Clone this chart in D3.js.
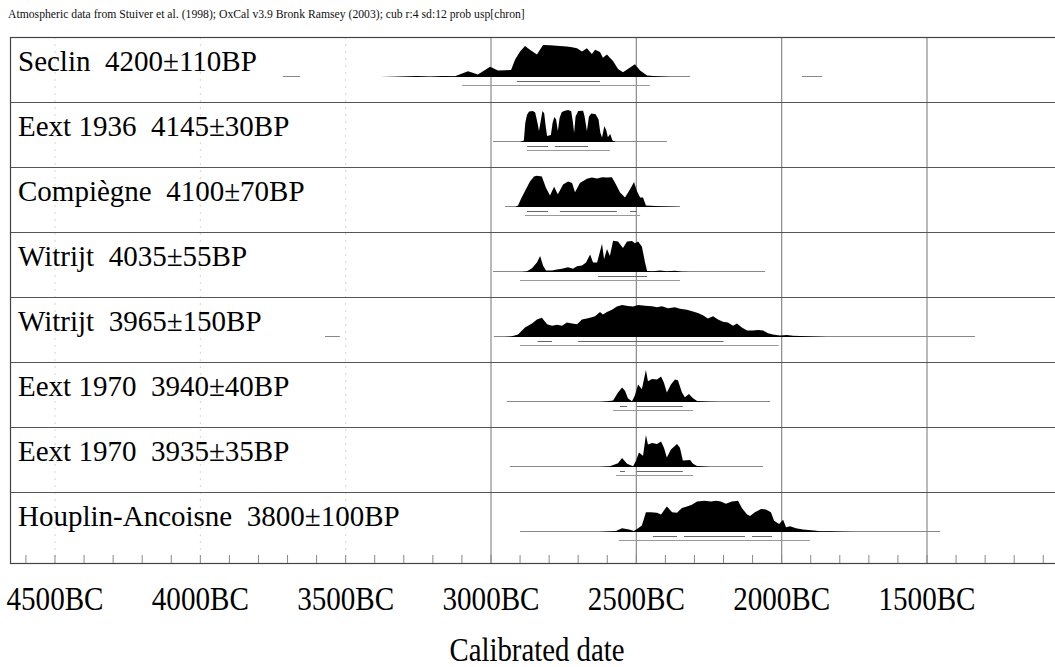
<!DOCTYPE html>
<html><head><meta charset="utf-8">
<script src="https://cdn.jsdelivr.net/npm/d3@7"></script>
<style>
html,body{margin:0;padding:0;background:#fff;}
svg{display:block;font-family:"Liberation Serif","Times New Roman",serif;}
</style></head>
<body>
<svg id="chart" width="1055" height="667"></svg>
<script>
// ---------- data (years BC, relative probability) ----------
const header = "Atmospheric data from Stuiver et al. (1998); OxCal v3.9 Bronk Ramsey (2003); cub r:4 sd:12 prob usp[chron]";
const labels = [
  "Seclin  4200±110BP",
  "Eext 1936  4145±30BP",
  "Compiègne  4100±70BP",
  "Witrijt  4035±55BP",
  "Witrijt  3965±150BP",
  "Eext 1970  3940±40BP",
  "Eext 1970  3935±35BP",
  "Houplin-Ancoisne  3800±100BP"
];
const tickYearsBC = [4500, 4000, 3500, 3000, 2500, 2000, 1500];
const axisTitle = "Calibrated date";

const seclin = [[3382,0],[3255,0.03],[3210,0.01],[3169,0.03],[3124,0.02],[3079,0.18],[3045,0.08],[3003,0.32],[2976,0.2],[2952,0.21],[2931,0.22],[2917,0.55],[2900,0.8],[2883,0.97],[2866,0.85],[2842,0.7],[2821,1.0],[2797,0.99],[2763,0.97],[2739,0.95],[2721,0.93],[2704,0.9],[2687,0.8],[2670,0.9],[2653,0.72],[2642,0.85],[2625,0.78],[2615,0.6],[2601,0.7],[2591,0.6],[2580,0.5],[2563,0.25],[2546,0.15],[2529,0.25],[2505,0.4],[2487,0.2],[2463,0.05],[2429,0.02],[2384,0]];
const eext1936 = [[2900,0],[2887,0.05],[2882,0.6],[2876,0.85],[2869,0.95],[2856,0.97],[2848,0.92],[2840,0.6],[2835,0.34],[2828,0.7],[2823,0.97],[2817,0.9],[2812,0.5],[2807,0.19],[2794,0.22],[2788,0.6],[2782,0.78],[2776,0.7],[2770,0.34],[2764,0.75],[2757,0.93],[2749,0.97],[2735,1.0],[2724,0.96],[2718,0.6],[2714,0.29],[2709,0.8],[2700,0.97],[2683,0.98],[2678,0.8],[2670,0.34],[2663,0.8],[2655,0.89],[2640,0.87],[2630,0.7],[2624,0.3],[2618,0.14],[2610,0.5],[2603,0.35],[2598,0.15],[2590,0.25],[2582,0.05],[2570,0]];
const compiegne = [[2917,0],[2907,0.05],[2897,0.25],[2883,0.5],[2866,0.8],[2852,0.95],[2842,0.98],[2825,0.95],[2811,0.6],[2797,0.36],[2783,0.63],[2770,0.4],[2752,0.7],[2735,0.8],[2721,0.75],[2711,0.46],[2694,0.75],[2670,0.88],[2653,0.92],[2635,0.89],[2618,0.93],[2601,0.92],[2584,0.93],[2570,0.7],[2556,0.45],[2539,0.3],[2522,0.55],[2508,0.78],[2498,0.5],[2487,0.3],[2477,0.3],[2467,0.05],[2419,0.02],[2350,0]];
const witrijt1 = [[2893,0],[2876,0.02],[2859,0.12],[2842,0.3],[2831,0.5],[2821,0.2],[2811,0.05],[2790,0.05],[2773,0.08],[2756,0.1],[2735,0.15],[2718,0.1],[2704,0.18],[2687,0.2],[2673,0.3],[2659,0.55],[2649,0.3],[2635,0.3],[2618,0.88],[2611,0.4],[2601,0.72],[2591,0.5],[2580,0.98],[2563,0.95],[2546,0.75],[2532,0.95],[2515,0.97],[2505,0.9],[2494,0.95],[2481,0.8],[2470,0.3],[2463,0.03],[2443,0.02],[2419,0.05],[2395,0.02],[2367,0.04],[2343,0.01],[2315,0]];
const witrijt2 = [[2952,0],[2928,0.02],[2907,0.08],[2883,0.3],[2859,0.42],[2842,0.55],[2825,0.6],[2807,0.4],[2790,0.35],[2773,0.38],[2756,0.35],[2739,0.45],[2721,0.42],[2704,0.4],[2687,0.55],[2670,0.58],[2653,0.62],[2642,0.65],[2625,0.78],[2615,0.7],[2601,0.78],[2584,0.85],[2567,0.95],[2549,1.0],[2529,0.97],[2511,0.95],[2494,1.0],[2470,0.98],[2446,0.96],[2429,0.93],[2412,0.96],[2391,0.9],[2367,0.93],[2350,0.88],[2326,0.85],[2305,0.8],[2288,0.75],[2271,0.68],[2254,0.58],[2236,0.65],[2219,0.55],[2202,0.48],[2185,0.45],[2167,0.35],[2154,0.42],[2137,0.3],[2119,0.2],[2099,0.2],[2081,0.22],[2064,0.2],[2047,0.12],[2030,0.08],[2006,0.05],[1982,0.06],[1961,0.04],[1913,0.02],[1844,0]];
const eext1970a = [[2625,0],[2601,0.02],[2580,0.05],[2563,0.3],[2549,0.45],[2539,0.35],[2529,0.12],[2515,0.02],[2505,0.2],[2494,0.55],[2481,0.4],[2467,1.0],[2460,0.65],[2446,0.72],[2429,0.7],[2415,0.8],[2405,0.6],[2395,0.3],[2381,0.55],[2367,0.7],[2357,0.68],[2343,0.3],[2333,0.15],[2319,0.25],[2305,0.12],[2291,0.03],[2247,0.01],[2212,0]];
const eext1970b = [[2625,0],[2591,0.02],[2563,0.12],[2549,0.28],[2532,0.1],[2511,0.02],[2501,0.2],[2491,0.45],[2477,0.35],[2467,1.0],[2460,0.7],[2446,0.75],[2429,0.72],[2415,0.8],[2405,0.6],[2395,0.3],[2381,0.55],[2360,0.72],[2350,0.6],[2340,0.2],[2315,0.22],[2305,0.1],[2291,0.03],[2247,0]];
const houplin = [[2625,0],[2570,0.03],[2549,0.12],[2525,0.08],[2508,0.03],[2494,0.12],[2481,0.2],[2467,0.62],[2450,0.62],[2429,0.6],[2415,0.55],[2395,0.8],[2377,0.62],[2360,0.6],[2343,0.75],[2326,0.8],[2309,0.85],[2291,0.95],[2267,0.98],[2243,0.95],[2226,0.98],[2209,0.95],[2192,0.88],[2171,0.95],[2150,0.98],[2137,0.75],[2119,0.55],[2109,0.5],[2092,0.62],[2071,0.72],[2054,0.7],[2037,0.62],[2026,0.35],[2009,0.25],[1995,0.38],[1985,0.15],[1971,0.18],[1951,0.12],[1927,0.08],[1889,0.05],[1868,0.02],[1830,0.02],[1786,0.01],[1748,0]];

// 68.2% ranges (years BC) per sample
const range68 = [
  [[2911,2625]],
  [[2876,2804],[2780,2666]],
  [[2876,2804],[2763,2567],[2522,2498]],
  [[2632,2463]],
  [[2840,2790],[2700,2200]],
  [[2556,2532],[2498,2340]],
  [[2556,2539],[2498,2340]],
  [[2443,2360],[2336,2126],[2102,2033]]
];
// 95.4% ranges
const range95 = [
  [[3100,2453]],
  [[2876,2591]],
  [[2883,2487]],
  [[2900,2350]],
  [[2900,2010]],
  [[2580,2305]],
  [[2570,2305]],
  [[2560,1903]]
];
// thin tails of the distributions (years BC)
const tails = [
  [[3716,3657],[3255,2315],[1930,1861]],
  [[2993,2395]],
  [[2952,2350]],
  [[2993,2057]],
  [[3571,3520],[2990,1335]],
  [[2945,2040]],
  [[2935,2064]],
  [[2900,1455]]
];
const dists = [seclin, eext1936, compiegne, witrijt1, witrijt2, eext1970a, eext1970b, houplin];

// ---------- layout ----------
const svg = d3.select("#chart");
const frame = {left: 10, right: 1060, top: 37, bottom: 563};
const rowH = 65;
const x = d3.scaleLinear().domain([-4500, -1500]).range([55, 927]);
const rowTop = i => frame.top + i * rowH;
const baseOff = 40, peakH = 32;

// header
svg.append("text").attr("x", 8).attr("y", 18)
  .attr("font-size", 11.7).attr("fill", "#111").text(header);

// faint early grid lines
[-4500, -4000, -3500].forEach(y => {
  svg.append("line").attr("x1", x(y)).attr("x2", x(y))
    .attr("y1", frame.top).attr("y2", frame.bottom)
    .attr("stroke", "#d4d4d4").attr("stroke-width", 1).attr("stroke-dasharray", "2,5");
});
// main grid lines
[-3000, -2500, -2000, -1500].forEach(y => {
  svg.append("line").attr("x1", x(y)).attr("x2", x(y))
    .attr("y1", frame.top).attr("y2", frame.bottom)
    .attr("stroke", "#8a8a8a").attr("stroke-width", 1.2);
});

// row separators
for (let i = 1; i < labels.length; i++) {
  svg.append("line").attr("x1", frame.left).attr("x2", frame.right)
    .attr("y1", rowTop(i) + 0.5).attr("y2", rowTop(i) + 0.5)
    .attr("stroke", "#555").attr("stroke-width", 1);
}

// frame
svg.append("rect").attr("x", frame.left + 0.5).attr("y", frame.top + 0.5)
  .attr("width", frame.right - frame.left).attr("height", frame.bottom - frame.top)
  .attr("fill", "none").attr("stroke", "#444").attr("stroke-width", 1.2);

// bottom minor ticks every 100 years
d3.range(-4600, -1000, 100).forEach(y => {
  const xx = x(y);
  if (xx < frame.left + 2 || xx > 1053) return;
  svg.append("line").attr("x1", xx).attr("x2", xx)
    .attr("y1", frame.bottom).attr("y2", frame.bottom - 8)
    .attr("stroke", "#888").attr("stroke-width", 1);
});

// rows
dists.forEach((d, i) => {
  const base = rowTop(i) + baseOff;
  const g = svg.append("g");
  g.append("text").attr("x", 18).attr("y", rowTop(i) + 34)
    .attr("font-size", 29).attr("fill", "#000")
    .style("white-space", "pre").text(labels[i]);
  tails[i].forEach(t => {
    g.append("line").attr("x1", x(-t[0])).attr("x2", x(-t[1]))
      .attr("y1", base - 0.5).attr("y2", base - 0.5)
      .attr("stroke", "#888").attr("stroke-width", 1);
  });
  const area = d3.area()
    .x(p => x(-p[0]))
    .y0(base)
    .y1(p => base - p[1] * peakH)
    .curve(d3.curveLinear);
  g.append("path").datum(d).attr("d", area).attr("fill", "#000");
  range68[i].forEach(r => {
    g.append("line").attr("x1", x(-r[0])).attr("x2", x(-r[1]))
      .attr("y1", base + 4.5).attr("y2", base + 4.5)
      .attr("stroke", "#666").attr("stroke-width", 1);
  });
  range95[i].forEach(r => {
    g.append("line").attr("x1", x(-r[0])).attr("x2", x(-r[1]))
      .attr("y1", base + 8.5).attr("y2", base + 8.5)
      .attr("stroke", "#999").attr("stroke-width", 1);
  });
});

// axis labels
tickYearsBC.forEach(y => {
  svg.append("text").attr("x", x(-y)).attr("y", 610)
    .attr("text-anchor", "middle").attr("font-size", 33)
    .attr("textLength", 97).attr("lengthAdjust", "spacingAndGlyphs")
    .attr("fill", "#000").text(y + "BC");
});
svg.append("text").attr("x", 537).attr("y", 661)
  .attr("text-anchor", "middle").attr("font-size", 34)
  .attr("textLength", 175).attr("lengthAdjust", "spacingAndGlyphs")
  .attr("fill", "#000").text(axisTitle);
</script>
</body></html>
